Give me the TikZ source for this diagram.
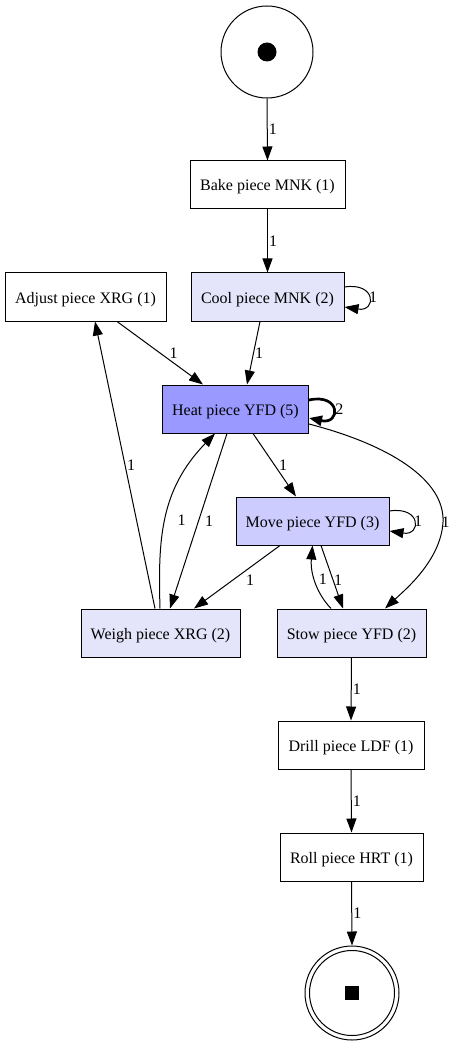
\documentclass[tikz,border=0pt]{standalone}
\usepackage{fontspec}
\setmainfont{Liberation Serif}
\usetikzlibrary{arrows.meta}
\definecolor{lightlav}{HTML}{E4E4FA}
\definecolor{midlav}{HTML}{CCCCFF}
\definecolor{darklav}{HTML}{9999FF}
\tikzset{
  trans/.style={draw, line width=1pt, rectangle, minimum height=48pt, inner sep=0pt, text height=12pt, text depth=0pt, font=\fontsize{16}{19}\selectfont},
  place/.style={draw, line width=1pt, circle, inner sep=0pt},
  arc/.style={line width=1pt, -{Triangle[length=14pt,width=10pt]}},
  thickarc/.style={line width=2.7pt, -{Triangle[length=13pt,width=10pt]}},
  lbl/.style={font=\fontsize{16}{19}\selectfont, inner sep=0pt, anchor=west}
}
\begin{document}
\begin{tikzpicture}[x=1pt,y=-1pt]
\useasboundingbox (0,0) rectangle (454,1048);
% places
\node[place, minimum size=92pt] (source) at (267,52) {};
\fill (source.center) circle (9.5);
\node[place, minimum size=94pt] (sink) at (352,993) {};
\draw[line width=1pt] (sink.center) circle (42.5);
\node[fill=black, minimum size=14pt, inner sep=0pt] (sq) at (sink.center) {};
% transitions
\node[trans, minimum width=155pt] (bake) at (267.5,185) {Bake piece MNK (1)};
\node[trans, minimum width=161pt] (adjust) at (85.5,297) {Adjust piece XRG (1)};
\node[trans, minimum width=153pt, fill=lightlav] (cool) at (267.5,297) {Cool piece MNK (2)};
\node[trans, minimum width=146pt, fill=darklav] (heat) at (235.5,409) {Heat piece YFD (5)};
\node[trans, minimum width=153pt, fill=midlav] (move) at (312.5,521) {Move piece YFD (3)};
\node[trans, minimum width=159pt, fill=lightlav] (weigh) at (160.5,633) {Weigh piece XRG (2)};
\node[trans, minimum width=149pt, fill=lightlav] (stow) at (351.5,633) {Stow piece YFD (2)};
\node[trans, minimum width=146pt] (drill) at (351,745) {Drill piece LDF (1)};
\node[trans, minimum width=143pt] (roll) at (351.5,857) {Roll piece HRT (1)};
% arcs
\draw[arc] (source.south) -- (bake.north) node[lbl, midway, xshift=1pt] {1};
\draw[arc] (bake.south) -- (cool.north) node[lbl, midway, xshift=1pt] {1};
\draw[arc] ([yshift=10pt]cool.east) .. controls +(32,-5) and +(32,5) .. ([yshift=-10pt]cool.east) node[lbl, pos=0.5, xshift=0pt] {1};
\draw[arc] ([xshift=-7.5pt]cool.south) -- ([xshift=11.5pt]heat.north) node[lbl, midway, xshift=1pt] {1};
\draw[arc] ([xshift=31.5pt]adjust.south) -- ([xshift=-32.5pt]heat.north) node[lbl, midway, xshift=9pt] {1};
\draw[thickarc] ([yshift=9pt]heat.east) .. controls +(32,-7) and +(32,7) .. ([yshift=-9pt]heat.east) node[lbl, pos=0.5, xshift=1pt] {2};
\draw[arc] ([xshift=17.5pt]heat.south) -- ([xshift=-16.5pt]move.north) node[lbl, midway, xshift=4pt] {1};
\draw[arc] ([yshift=-15pt]heat.east) .. controls (390,445) and (445,480) .. (443,522) node[lbl, xshift=-2pt] {1} .. controls (441,560) and (405,590) .. ([xshift=33.5pt]stow.north);
\draw[arc] ([xshift=-8.5pt]heat.south) -- ([xshift=9.5pt]weigh.north) node[lbl, midway, xshift=6pt] {1};
\draw[arc] ([xshift=-0.5pt]weigh.north) .. controls (158,540) and (160,490) .. ([xshift=-20.5pt]heat.south) node[lbl, pos=0.5, xshift=11pt, yshift=-4pt] {1};
\draw[arc] ([xshift=-5.5pt]weigh.north) -- ([xshift=9.5pt]adjust.south) node[lbl, midway, xshift=1.5pt] {1};
\draw[arc] ([yshift=10pt]move.east) .. controls +(32,-5) and +(32,5) .. ([yshift=-10pt]move.east) node[lbl, pos=0.5, xshift=0pt] {1};
\draw[arc] ([xshift=-32.5pt]move.south) -- ([xshift=33.5pt]weigh.north) node[lbl, midway, xshift=8.5pt, yshift=-3pt] {1};
\draw[arc] ([xshift=8.5pt]move.south) -- ([xshift=-8.5pt]stow.north) node[lbl, midway, xshift=1.5pt, yshift=-3pt] {1};
\draw[arc] ([xshift=-20.5pt]stow.north) .. controls (318,595) and (310,575) .. (move.south) node[lbl, pos=0.5, xshift=2.5pt, yshift=4pt] {1};
\draw[arc] (stow.south) -- (drill.north) node[lbl, midway, xshift=1pt] {1};
\draw[arc] (drill.south) -- (roll.north) node[lbl, midway, xshift=1pt] {1};
\draw[arc] (roll.south) -- (sink.north) node[lbl, midway, xshift=1pt] {1};
\end{tikzpicture}
\end{document}
